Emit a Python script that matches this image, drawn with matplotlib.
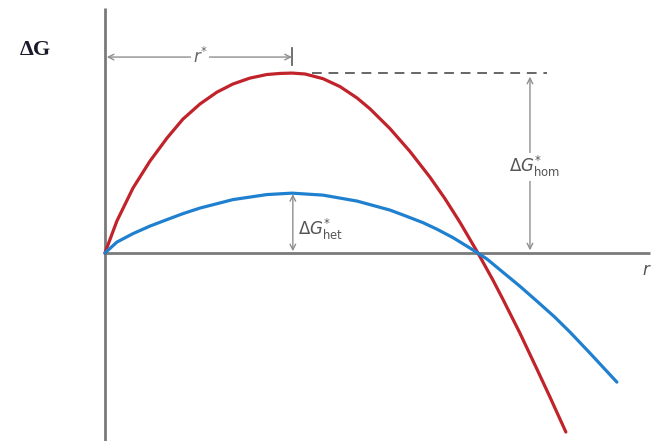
import matplotlib
matplotlib.use("Agg")
import matplotlib.pyplot as plt

# values: r in units of r*, dG in units of dG*_hom
r_hom = [0, 0.064, 0.150, 0.241, 0.332, 0.417, 0.508, 0.599, 0.684, 0.775, 0.866,
         0.936, 1.0, 1.070, 1.166, 1.257, 1.348, 1.417, 1.524, 1.631, 1.738,
         1.818, 1.898, 1.995, 2.075, 2.128, 2.219, 2.310, 2.380, 2.465]
g_hom = [0, 0.178, 0.361, 0.511, 0.639, 0.744, 0.828, 0.894, 0.939, 0.972, 0.992,
         0.998, 1.0, 0.995, 0.969, 0.925, 0.862, 0.802, 0.692, 0.565, 0.422,
         0.303, 0.172, 0, -0.150, -0.256, -0.444, -0.644, -0.800, -0.994]

r_het = [0, 0.064, 0.150, 0.241, 0.332, 0.417, 0.508, 0.684, 0.866, 1.0, 1.166,
         1.348, 1.524, 1.604, 1.701, 1.775, 1.861, 1.952, 1.995, 2.043, 2.128,
         2.219, 2.310, 2.406, 2.487, 2.594, 2.738]
g_het = [0, 0.061, 0.108, 0.150, 0.186, 0.219, 0.250, 0.297, 0.325, 0.333, 0.322,
         0.289, 0.239, 0.208, 0.169, 0.133, 0.086, 0.028, 0, -0.033, -0.106,
         -0.184, -0.267, -0.356, -0.439, -0.556, -0.717]

r_star = 1.0
g_hom_star = 1.0
g_het_star = 0.333

plt.rcParams['mathtext.fontset'] = 'dejavusans'

fig = plt.figure(figsize=(6.56, 4.41), dpi=100)
ax = fig.add_axes([0, 0, 1, 1])
ax.set_xlim(-0.561, 2.947)
ax.set_ylim(-1.044, 1.406)
ax.axis('off')

axis_col = '#7a7a7a'
ann_col = '#8f8f8f'

# axes
ax.plot([0, 0], [-1.05, 1.361], color=axis_col, lw=2.0, solid_capstyle='butt')
ax.plot([0, 2.914], [0, 0], color=axis_col, lw=2.0, solid_capstyle='butt')

# curves
ax.plot(r_hom, g_hom, color='#c1232b', lw=2.3, solid_capstyle='round',
        solid_joinstyle='round')
ax.plot(r_het, g_het, color='#1f80cf', lw=2.3, solid_capstyle='round',
        solid_joinstyle='round')

# dashed line at the homogeneous barrier
ax.plot([1.11, 2.364], [g_hom_star, g_hom_star], color='#666666', lw=1.4,
        dashes=(5, 3.5))

arrow = dict(arrowstyle='<->', color=ann_col, lw=1.0, shrinkA=0, shrinkB=0)

# r* arrow
ax.annotate('', xy=(0.01, 1.089), xytext=(r_star, 1.089), arrowprops=arrow)
ax.plot([r_star, r_star], [1.044, 1.139], color='#666666', lw=1.3)
ax.text(0.51, 1.089, r'$r^{*}$', ha='center', va='center', fontsize=12,
        color='#666666', bbox=dict(fc='white', ec='none', pad=1))

# dG*_hom arrow
ax.annotate('', xy=(2.273, 0.015), xytext=(2.273, 0.98), arrowprops=arrow)
ax.text(2.30, 0.48, r'$\Delta G^{*}_{\mathrm{hom}}$', ha='center', va='center',
        fontsize=12, color='#555555', bbox=dict(fc='white', ec='none', pad=1))

# dG*_het arrow
ax.annotate('', xy=(1.005, 0.01), xytext=(1.005, g_het_star - 0.005), arrowprops=arrow)
ax.text(1.03, 0.13, r'$\Delta G^{*}_{\mathrm{het}}$', ha='left', va='center',
        fontsize=12, color='#555555')

# axis labels
ax.text(-0.374, 1.128, 'ΔG', ha='center', va='center', fontsize=16,
        fontweight='bold', family='Liberation Serif', color='#1a1a2a')
ax.text(2.90, -0.094, r'$r$', ha='center', va='center', fontsize=12,
        color='#555555')

fig.savefig('out.png', dpi=100)
